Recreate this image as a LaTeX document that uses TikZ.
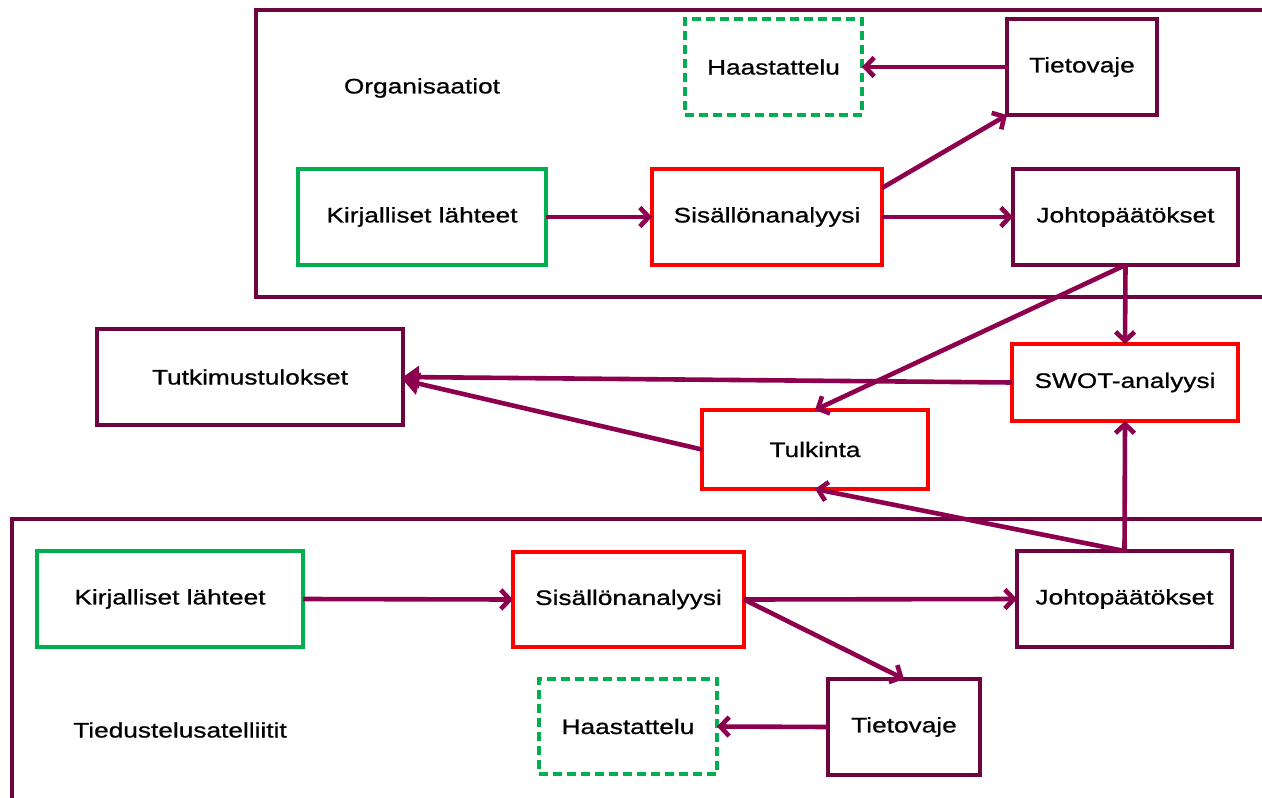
\documentclass[tikz,border=0pt]{standalone}
\usepackage{fontspec}
\setmainfont{Liberation Sans}[FakeStretch=1.25,FakeBold=0.8]
\usetikzlibrary{arrows.meta}
\definecolor{framec}{RGB}{110,5,62}
\definecolor{arrowc}{RGB}{140,0,78}
\definecolor{redc}{RGB}{255,0,0}
\definecolor{greenc}{RGB}{0,176,80}
\begin{document}
\begin{tikzpicture}[x=1pt,y=-1pt,
  every node/.style={font=\fontsize{21}{24}\selectfont, text=black},
  box/.style={draw=framec, line width=3.4pt, inner sep=0pt, outer sep=0pt},
  redbox/.style={box, draw=redc},
  greenbox/.style={box, draw=greenc},
  dashbox/.style={box, draw=greenc, dash pattern=on 9pt off 5pt},
  container/.style={draw=framec, line width=3.4pt},
  conn/.style={draw=arrowc, line width=4.6pt, -{Straight Barb[length=9pt,width=19pt,line width=4.6pt]}},
  connf/.style={draw=arrowc, line width=4.6pt, -{Triangle[length=16pt,width=22pt]}},
  label/.style={inner sep=0pt}
]
\useasboundingbox (0,0) rectangle (1262,798);
% containers
\draw[container] (1262,10) -- (256,10) -- (256,297) -- (1262,297);
\draw[container] (1262,519) -- (12,519) -- (12,798);
\node[label] (org) at (422,88) {Organisaatiot};
\node[label] (tied) at (180,730) {Tiedustelusatelliitit};
% top group
\node[dashbox, minimum width=177pt, minimum height=96pt] (haasT) at (773.5,67) {Haastattelu};
\node[box, minimum width=150pt, minimum height=96pt] (tietT) at (1082,67) {Tietovaje};
\node[greenbox, minimum width=248pt, minimum height=96pt] (kirjT) at (422,217) {Kirjalliset lähteet};
\node[redbox, minimum width=230pt, minimum height=96pt] (sisT) at (767,217) {Sisällönanalyysi};
\node[box, minimum width=225pt, minimum height=96pt] (johT) at (1125.5,217) {Johtopäätökset};
% middle
\node[box, minimum width=306pt, minimum height=96pt] (tutk) at (250,377) {Tutkimustulokset};
\node[redbox, minimum width=226pt, minimum height=77pt] (swot) at (1125,382.5) {SWOT-analyysi};
\node[redbox, minimum width=226pt, minimum height=79pt] (tulk) at (815,449.5) {Tulkinta};
% bottom group
\node[greenbox, minimum width=266pt, minimum height=96pt] (kirjB) at (170,599) {Kirjalliset lähteet};
\node[redbox, minimum width=231pt, minimum height=95pt] (sisB) at (628.5,599.5) {Sisällönanalyysi};
\node[box, minimum width=215pt, minimum height=96pt] (johB) at (1124.5,599) {Johtopäätökset};
\node[dashbox, minimum width=178pt, minimum height=95pt] (haasB) at (628,726.5) {Haastattelu};
\node[box, minimum width=152pt, minimum height=96pt] (tietB) at (904,727) {Tietovaje};
% connectors top
\draw[conn] (tietT.west) -- (haasT.east);
\draw[conn] (kirjT.east) -- (sisT.west);
\draw[conn] (sisT.east) -- (johT.west);
\draw[conn] ([yshift=-19pt]sisT.north east) -- (tietT.south west);
\draw[conn] (johT.south) -- (swot.north);
\draw[conn] (johT.south) -- (tulk.north);
% middle
\draw[connf] (swot.west) -- (tutk.east);
\draw[connf] (tulk.west) -- ([yshift=-3pt]tutk.east);
\draw[conn] (johB.north) -- (swot.south);
\draw[conn] (johB.north) -- (tulk.south);
% bottom
\draw[conn] (kirjB.east) -- (sisB.west);
\draw[conn] (sisB.east) -- (johB.west);
\draw[conn] (sisB.east) -- (tietB.north);
\draw[conn] (tietB.west) -- (haasB.east);
\end{tikzpicture}
\end{document}
